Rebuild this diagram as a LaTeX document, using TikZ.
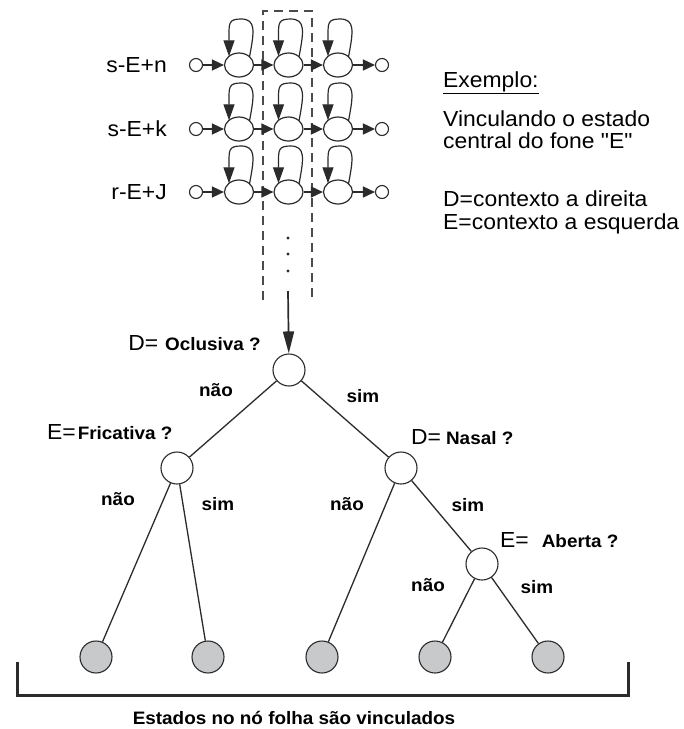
\documentclass[tikz,border=0pt]{standalone}
\usepackage{fontspec}
\setmainfont[FakeStretch=1.05]{Liberation Sans}
\newfontfamily\qfont[FakeStretch=1.05]{Liberation Sans}
\usetikzlibrary{shapes.geometric,arrows.meta}
\definecolor{ink}{HTML}{2B2B2B}
\definecolor{leafgray}{HTML}{C8C9CB}
\tikzset{
  reg/.style={font=\fontsize{21.8}{25}\selectfont, inner sep=0pt, text=black},
  lbl/.style={font=\fontsize{18}{21}\selectfont\bfseries, inner sep=0pt, text=black},
  hmm/.style={ellipse, draw=ink, line width=1.2pt, minimum width=29pt, minimum height=24pt, inner sep=0pt},
  endpt/.style={circle, draw=ink, line width=1.1pt, minimum size=13pt, inner sep=0pt},
  tnode/.style={circle, draw=ink, line width=1.1pt, minimum size=32pt, inner sep=0pt, fill=white},
  leaf/.style={tnode, fill=leafgray},
  harr/.style={-{Triangle[length=12pt,width=11pt]}, line width=1.6pt, draw=ink},
  looparr/.style={-{Triangle[length=16pt,width=11pt]}, line width=1.2pt, draw=ink},
  edge/.style={line width=1.3pt, draw=ink},
}
\newcommand{\bigtxt}[1]{{\fontsize{21.8}{25}\mdseries\selectfont #1}}
\begin{document}
\begin{tikzpicture}[x=1pt,y=-1pt]
\useasboundingbox[fill=white] (0,0) rectangle (684,729);

% dashed box around the central states
\draw[ink!85, line width=1.2pt, dash pattern=on 9pt off 6pt] (263,300) -- (263,11) -- (312,11) -- (312,300);

% HMM rows
\foreach \r/\y/\t in {1/65/s-E+n, 2/129/s-E+k, 3/192/r-E+J}{
  \node[reg, anchor=base east] (lab\r) at (167,\y+7.5) {\t};
  \node[endpt] (s\r) at (196,\y) {};
  \node[hmm] (a\r) at (239,\y) {};
  \node[hmm] (b\r) at (288.5,\y) {};
  \node[hmm] (c\r) at (338,\y) {};
  \node[endpt] (e\r) at (382,\y) {};
  \draw[harr] (s\r) -- (a\r);
  \draw[harr] (a\r) -- (b\r);
  \draw[harr] (b\r) -- (c\r);
  \draw[harr] (c\r) -- (e\r);
  \foreach \n in {a,b,c}{
    \draw[looparr] ([shift={(10.5,-8.2)}]\n\r.center) .. controls +(5,-26) and +(15,0) .. ([shift={(2,-46)}]\n\r.center)
      .. controls +(-12,0) and +(0,-12) .. ([shift={(-10,-30)}]\n\r.center) -- ([shift={(-10,-8.7)}]\n\r.center);
  }
}

% dots
\foreach \yy in {238,254,271}{\fill[ink] (288,\yy) circle (1.7);}

% example text
\node[reg, anchor=base west] (ex) at (443,87) {\underline{Exemplo:}};
\node[reg, anchor=base west] (t1) at (443,126) {Vinculando o estado};
\node[reg, anchor=base west] (t2) at (443,148) {central do fone {\qfont"}E{\qfont"}};
\node[reg, anchor=base west] (t3) at (443,206) {D=contexto a direita};
\node[reg, anchor=base west] (t4) at (443,229) {E=contexto a esquerda};

% tree
\node[tnode] (root) at (289,370) {};
\node[tnode] (L) at (177,468) {};
\node[tnode] (R) at (401,468) {};
\node[tnode] (A) at (482,564) {};
\node[leaf] (f1) at (96,657) {};
\node[leaf] (f2) at (208,657) {};
\node[leaf] (f3) at (322,657) {};
\node[leaf] (f4) at (435,657) {};
\node[leaf] (f5) at (548,657) {};

\coordinate (arrstart) at (288,291);
\draw[-{Triangle[length=22pt,width=11pt]}, line width=1.7pt, draw=ink] (arrstart) -- (root);

\draw[edge] (root) -- (L);
\draw[edge] (root) -- (R);
\draw[edge] (L) -- (f1);
\draw[edge] (L) -- (f2);
\draw[edge] (R) -- (f3);
\draw[edge] (R) -- (A);
\draw[edge] (A) -- (f4);
\draw[edge] (A) -- (f5);

% question labels
\node[lbl, anchor=base east] (q1) at (261,350.5) {\bigtxt{D=}\hspace{7pt}Oclusiva ?};
\node[lbl, anchor=base west] (q2) at (47,439) {\bigtxt{E=}\hspace{2pt}Fricativa ?};
\node[lbl, anchor=base west] (q3) at (411,444) {\bigtxt{D=}\hspace{5pt}Nasal ?};
\node[lbl, anchor=base west] (q4) at (500,547) {\bigtxt{E=}\hspace{13pt}Aberta ?};

% branch labels
\node[lbl, anchor=base] (n1) at (216,396) {não};
\node[lbl, anchor=base] (s1) at (363,402) {sim};
\node[lbl, anchor=base] (n2) at (118,505) {não};
\node[lbl, anchor=base] (s2) at (218,510) {sim};
\node[lbl, anchor=base] (n3) at (347,510) {não};
\node[lbl, anchor=base] (s3) at (468,511) {sim};
\node[lbl, anchor=base] (n4) at (428,591) {não};
\node[lbl, anchor=base] (s4) at (537,593) {sim};

% bracket
\draw[ink, line width=3pt] (17,662) -- (17,695) -- (628,695) -- (628,662);
\node[lbl, anchor=base] (bt) at (294,724.5) {Estados no nó folha são vinculados};
\end{tikzpicture}
\end{document}
